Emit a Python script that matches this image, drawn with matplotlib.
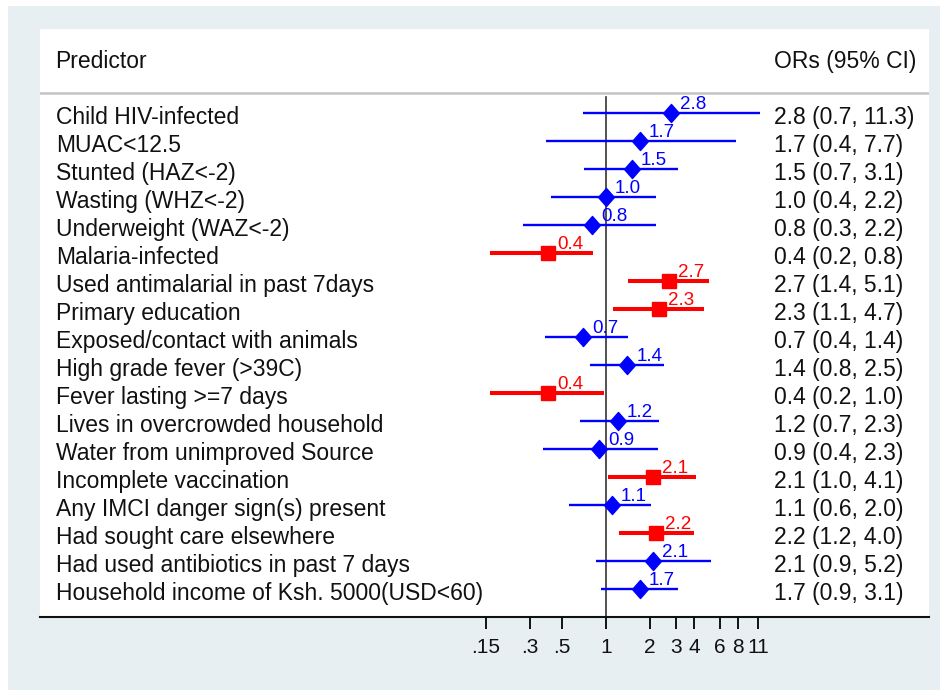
import numpy as np
import matplotlib
matplotlib.use("Agg")
import matplotlib.pyplot as plt
from matplotlib.patches import Rectangle
from matplotlib.path import Path
from matplotlib.ticker import NullLocator, FixedLocator, FixedFormatter
import matplotlib.transforms as mtransforms

# ---------------- data ----------------
predictors = [
    "Child HIV-infected",
    "MUAC<12.5",
    "Stunted (HAZ<-2)",
    "Wasting (WHZ<-2)",
    "Underweight (WAZ<-2)",
    "Malaria-infected",
    "Used antimalarial in past 7days",
    "Primary education",
    "Exposed/contact with animals",
    "High grade fever (>39C)",
    "Fever lasting >=7 days",
    "Lives in overcrowded household",
    "Water from unimproved Source",
    "Incomplete vaccination",
    "Any IMCI danger sign(s) present",
    "Had sought care elsewhere",
    "Had used antibiotics in past 7 days",
    "Household income of Ksh. 5000(USD<60)",
]
odds_ratios = [2.8, 1.7, 1.5, 1.0, 0.8, 0.4, 2.7, 2.3, 0.7, 1.4, 0.4, 1.2, 0.9, 2.1, 1.1, 2.2, 2.1, 1.7]
ci_lower = [0.70, 0.39, 0.71, 0.42, 0.27, 0.16, 1.42, 1.12, 0.38, 0.78, 0.16, 0.66, 0.37, 1.04, 0.56, 1.23, 0.86, 0.93]
ci_upper = [11.3, 7.7, 3.12, 2.2, 2.2, 0.82, 5.1, 4.7, 1.42, 2.5, 0.97, 2.3, 2.27, 4.1, 2.02, 4.0, 5.2, 3.12]
significant = [False, False, False, False, False, True, True, True, False, False,
               True, False, False, True, False, True, False, False]
tick_values = [0.15, 0.3, 0.5, 1, 2, 3, 4, 6, 8, 11]
tick_labels = [".15", ".3", ".5", "1", "2", "3", "4", "6", "8", "11"]

# ---------------- figure ----------------
plt.rcParams["font.family"] = ["Liberation Sans", "DejaVu Sans"]
W, H = 940, 690
fig = plt.figure(figsize=(W / 100, H / 100), dpi=100, facecolor="white")


def fx(px):
    return px / W


def fy(py):
    return 1 - py / H


fig.patches.append(Rectangle((fx(8), 0), 1 - fx(8), fy(6), transform=fig.transFigure,
                             facecolor="#e8eff2", edgecolor="none", zorder=-10))

ax = fig.add_axes([fx(40), fy(617), fx(929) - fx(40), (617 - 29) / H])
ax.set_zorder(5)
ax.set_facecolor("white")
ax.set_xscale("log")
# pixel scale: x = 606 + 63.5 * ln(v)
ax.set_xlim(np.exp((40 - 606) / 63.5), np.exp((929 - 606) / 63.5))
ax.set_ylim(18, -3)

for s in ["top", "left", "right"]:
    ax.spines[s].set_visible(False)
ax.spines["bottom"].set_linewidth(1.5)
ax.spines["bottom"].set_color("#111111")
ax.set_yticks([])
ax.xaxis.set_major_locator(FixedLocator(tick_values))
ax.xaxis.set_major_formatter(FixedFormatter(tick_labels))
ax.xaxis.set_minor_locator(NullLocator())
ax.tick_params(axis="x", which="major", direction="out", length=8.6, width=1.4,
               labelsize=15, pad=6.5, color="#111111", labelcolor="#111111")

blend = mtransforms.blended_transform_factory(ax.transAxes, ax.transData)

# header
ax.text((55 - 40) / 889, -1.607, "Predictor", transform=blend, fontsize=16.5,
        va="baseline", ha="left", color="#111111")
ax.text((774 - 40) / 889, -1.607, "ORs (95% CI)", transform=blend, fontsize=16.5,
        va="baseline", ha="left", color="#111111")
ax.axhline(-0.714, color="#c4c4c4", lw=1.8, zorder=1)

# reference line at OR = 1
ax.plot([1, 1], [-0.571, 18], color="#333333", lw=1.2, zorder=1)

diamond = Path([(0, 1), (0.88, 0), (0, -1), (-0.88, 0), (0, 1)],
               [Path.MOVETO, Path.LINETO, Path.LINETO, Path.LINETO, Path.CLOSEPOLY])

for i, (name, orv, lo, hi, sig) in enumerate(zip(predictors, odds_ratios, ci_lower,
                                                 ci_upper, significant)):
    col = "#ff0000" if sig else "#0000ff"
    ax.plot([lo, hi], [i, i], color=col, lw=2.9 if sig else 1.7, solid_capstyle="butt", zorder=2)
    if sig:
        ax.plot([orv], [i], marker="s", markersize=9.6, color=col, zorder=3)
    else:
        ax.plot([orv], [i], marker=diamond, markersize=13, color=col, zorder=3)
    ax.annotate(f"{orv:.1f}", (orv, i), xytext=(6.5, 2.9), textcoords="offset points",
                ha="left", va="baseline", color=col, fontsize=13.5, zorder=4)
    ax.text((56 - 40) / 889, i + 0.393, name, transform=blend, fontsize=16.5,
            va="baseline", ha="left", color="#111111")
    ax.text((774 - 40) / 889, i + 0.393, f"{orv:.1f} ({lo:.1f}, {hi:.1f})", transform=blend,
            fontsize=16.5, va="baseline", ha="left", color="#111111")

fig.savefig("out.png", dpi=100, facecolor="white")
